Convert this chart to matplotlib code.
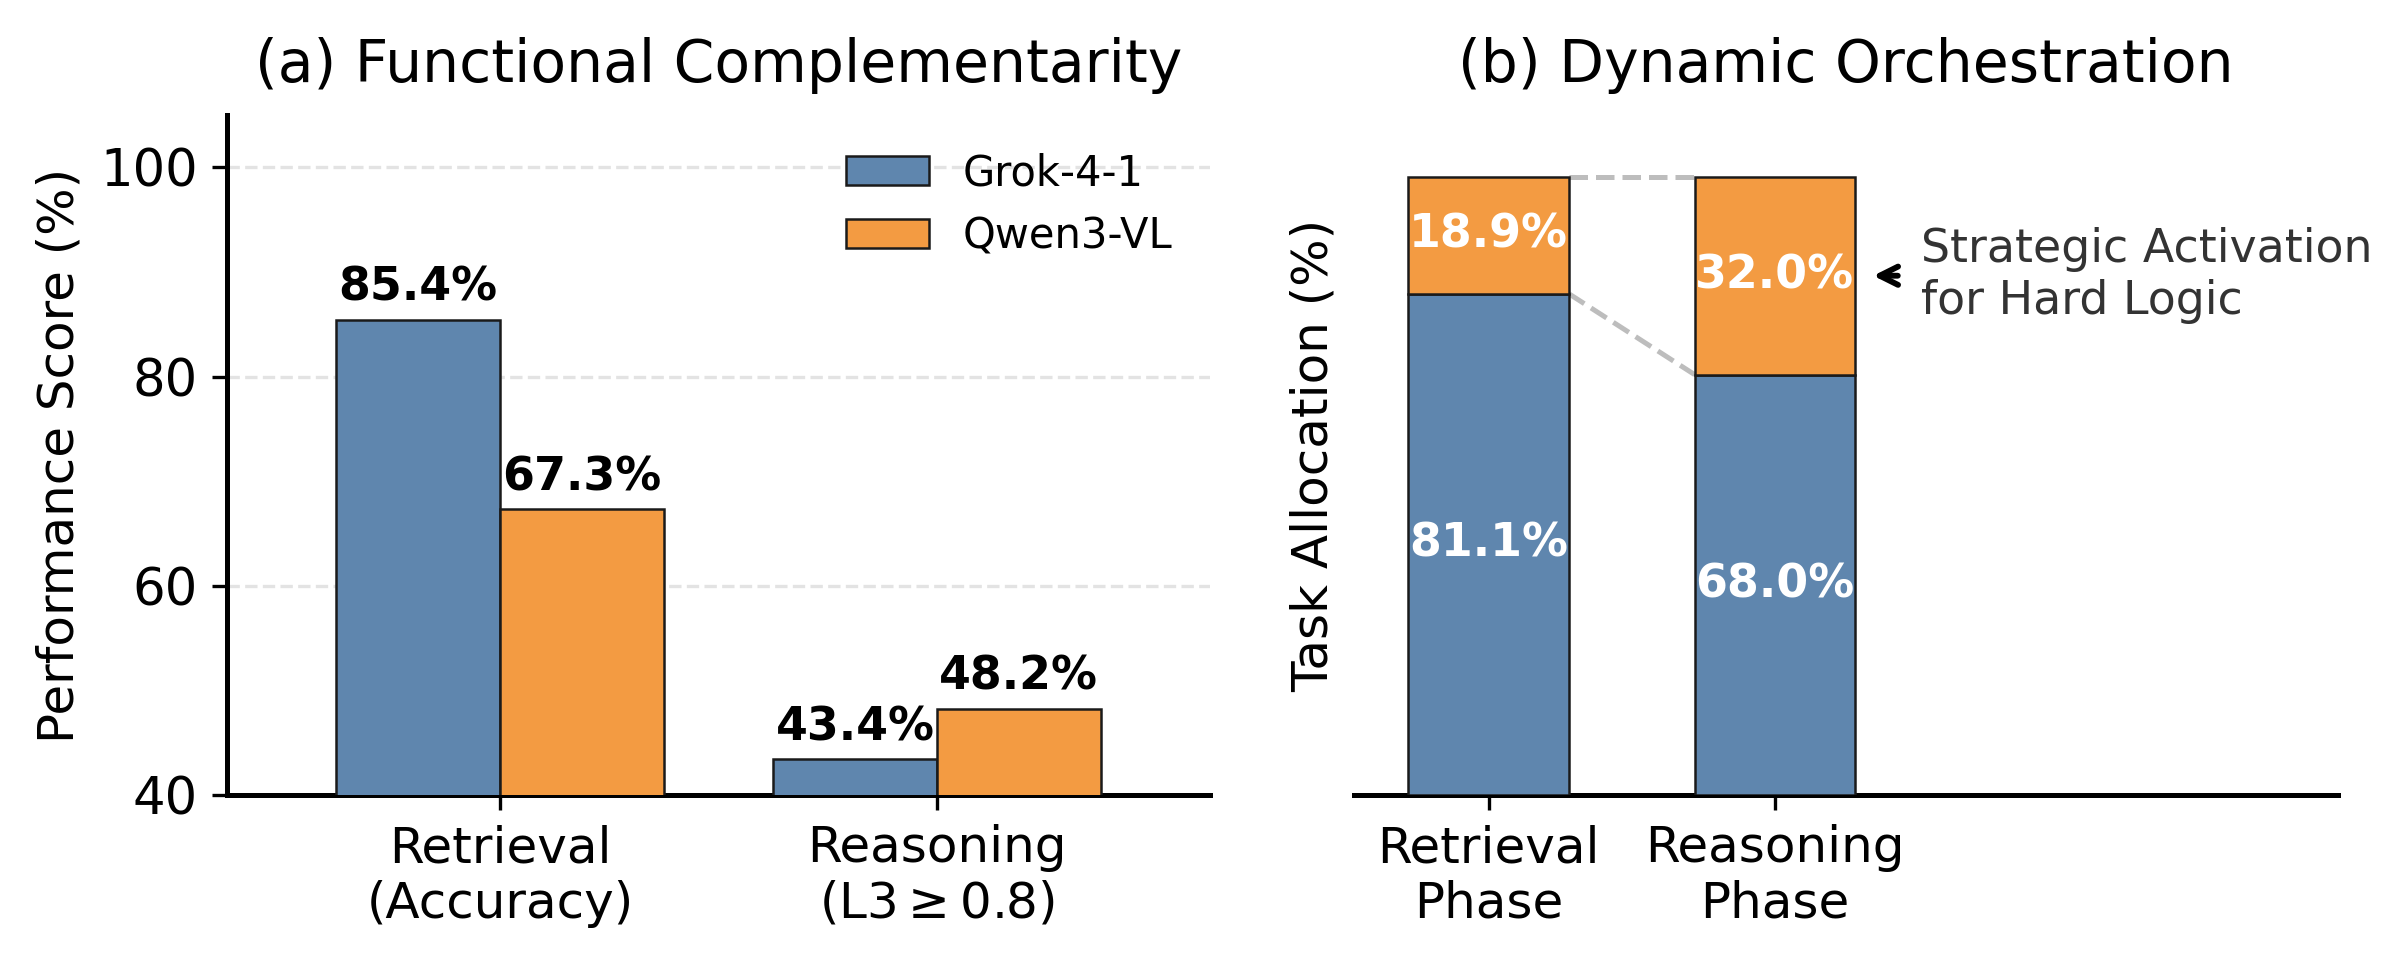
import matplotlib
matplotlib.use("Agg")
import matplotlib.pyplot as plt
import numpy as np

plt.rcParams['font.family'] = ['DejaVu Sans']

# Panel (a)
categories_a = ["Retrieval\n(Accuracy)", "Reasoning\n(L3$\\geq$0.8)"]
grok_scores = [85.4, 43.4]
qwen_scores = [67.3, 48.2]
series_names = ["Grok-4-1", "Qwen3-VL"]

# Panel (b)
categories_b = ["Retrieval\nPhase", "Reasoning\nPhase"]
grok_alloc = [81.1, 68.0]
qwen_alloc = [18.9, 32.0]

BLUE = "#5f86ae"
ORANGE = "#f39b42"
EDGE = "#1a1a1a"

fig = plt.figure(figsize=(8.003, 3.197), dpi=300)
ax1 = fig.add_axes([0.0945, 0.171, 0.4095, 0.709])
ax2 = fig.add_axes([0.564, 0.171, 0.410, 0.709])

# ---- (a)
x = np.arange(len(categories_a))
w = 0.375
b1 = ax1.bar(x - w/2, grok_scores, w, color=BLUE, edgecolor=EDGE, linewidth=0.6, label=series_names[0], zorder=3)
b2 = ax1.bar(x + w/2, qwen_scores, w, color=ORANGE, edgecolor=EDGE, linewidth=0.6, label=series_names[1], zorder=3)
for bars in (b1, b2):
    for r in bars:
        ax1.text(r.get_x() + r.get_width()/2, r.get_height() + 0.9, f"{r.get_height():.1f}%",
                 ha='center', va='bottom', fontsize=11, fontweight='bold')
ax1.set_ylim(40, 105)
ax1.set_xlim(-0.625, 1.625)
ax1.set_yticks([40, 60, 80, 100])
ax1.set_xticks(x)
ax1.set_xticklabels(categories_a, fontsize=12)
ax1.tick_params(axis='y', labelsize=12.3)
ax1.set_ylabel("Performance Score (%)", fontsize=12)
ax1.set_title("(a) Functional Complementarity", fontsize=14, pad=8)
ax1.grid(axis='y', linestyle='--', color='#e3e3e3', linewidth=0.8, zorder=0)
ax1.spines['top'].set_visible(False)
ax1.spines['right'].set_visible(False)
for s in ('left', 'bottom'):
    ax1.spines[s].set_linewidth(1.2)
ax1.legend(loc='upper right', frameon=False, fontsize=10)

# ---- (b)
xb = np.arange(len(categories_b))
wb = 0.56
ax2.bar(xb, grok_alloc, wb, color=BLUE, edgecolor=EDGE, linewidth=0.6, zorder=3)
ax2.bar(xb, qwen_alloc, wb, bottom=grok_alloc, color=ORANGE, edgecolor=EDGE, linewidth=0.6, zorder=3)
for i in range(len(xb)):
    ax2.text(xb[i], grok_alloc[i]/2, f"{grok_alloc[i]:.1f}%", ha='center', va='center',
             color='white', fontsize=11, fontweight='bold', zorder=4)
    ax2.text(xb[i], grok_alloc[i] + qwen_alloc[i]/2, f"{qwen_alloc[i]:.1f}%", ha='center', va='center',
             color='white', fontsize=11, fontweight='bold', zorder=4)
tops = [g + q for g, q in zip(grok_alloc, qwen_alloc)]
ax2.plot([xb[0] + wb/2, xb[1] - wb/2], [tops[0], tops[1]], linestyle='--', color='#bdbdbd', linewidth=1.2, zorder=2)
ax2.plot([xb[0] + wb/2, xb[1] - wb/2], [grok_alloc[0], grok_alloc[1]], linestyle='--', color='#bdbdbd', linewidth=1.2, zorder=2)
ax2.annotate("Strategic Activation\nfor Hard Logic",
             xy=(xb[1] + wb/2 + 0.035, grok_alloc[1] + qwen_alloc[1]/2),
             xytext=(xb[1] + wb/2 + 0.23, grok_alloc[1] + qwen_alloc[1]/2),
             ha='left', va='center', fontsize=11, color='#333333',
             arrowprops=dict(arrowstyle='->', color='black', lw=1.4, shrinkA=3.5, shrinkB=2))
ax2.set_ylim(0, 110)
ax2.set_xlim(-0.47, 2.97)
ax2.set_yticks([])
ax2.set_xticks(xb)
ax2.set_xticklabels(categories_b, fontsize=12)
ax2.set_ylabel("Task Allocation (%)", fontsize=12)
ax2.set_title("(b) Dynamic Orchestration", fontsize=14, pad=8)
for s in ('top', 'right', 'left'):
    ax2.spines[s].set_visible(False)
ax2.spines['bottom'].set_linewidth(1.2)

fig.savefig("out.png", dpi=300)
